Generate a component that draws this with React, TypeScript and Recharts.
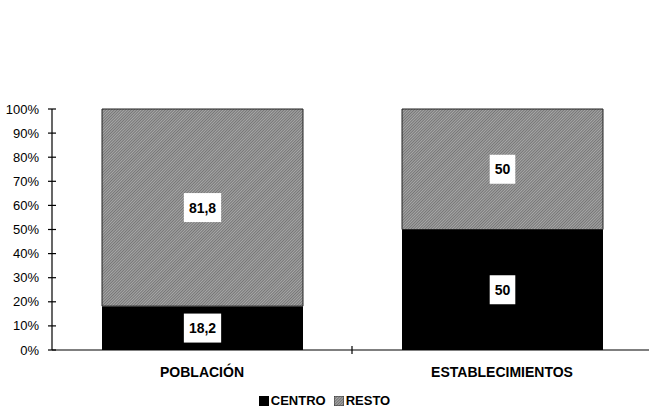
import { Bar, BarChart, XAxis, YAxis, Legend, LabelList } from "recharts"

// values (percent shares)
const categories = ["POBLACIÓN", "ESTABLECIMIENTOS"]
const centro = [18.2, 50]
const resto = [81.8, 50]
const yTicks = [0, 10, 20, 30, 40, 50, 60, 70, 80, 90, 100]

const data = categories.map((name, i) => ({ name, centro: centro[i], resto: resto[i] }))

const FONT = "'Liberation Sans', Arial, Helvetica, sans-serif"

const YTick = (props: any) => {
  const { x, y, payload } = props
  return (
    <g>
      <line x1={x - 4} x2={x + 4} y1={y} y2={y} stroke="#000" strokeWidth={1.2} />
      <text x={x - 13} y={y + 4.5} textAnchor="end" fontSize={13} fontFamily={FONT} fill="#000">
        {`${payload.value}%`}
      </text>
    </g>
  )
}

const XTick = (props: any) => {
  const { x, y, payload, index } = props
  const half = payload.offset ?? 150
  return (
    <g>
      {index > 0 && <line x1={x - half} x2={x - half} y1={y - 4} y2={y + 4} stroke="#000" strokeWidth={1.2} />}
      <text x={x} y={y + 27} textAnchor="middle" fontSize={14} fontWeight="bold" fontFamily={FONT} fill="#000">
        {payload.value}
      </text>
    </g>
  )
}

const BoxLabel = (props: any) => {
  const { x, y, width, height, value } = props
  const txt = String(value).replace(".", ",")
  const tw = txt.split("").reduce((s, c) => s + (c === "," ? 3.9 : 7.8), 0)
  const bw = tw + 10
  const bh = 29
  const cx = x + width / 2
  const cy = y + height / 2
  return (
    <g>
      <rect x={cx - bw / 2} y={cy - bh / 2} width={bw} height={bh} fill="#fff" />
      <text x={cx} y={cy + 5} textAnchor="middle" fontSize={14} fontWeight="bold" fontFamily={FONT} fill="#000">
        {txt}
      </text>
    </g>
  )
}

const LegendContent = () => (
  <div style={{ display: "flex", justifyContent: "center", fontFamily: FONT, fontSize: 13, fontWeight: "bold", lineHeight: "14px" }}>
    <span style={{ display: "inline-flex", alignItems: "center", marginRight: 8 }}>
      <svg width={10} height={10} style={{ marginRight: 2 }}>
        <rect width={10} height={10} fill="#000" />
      </svg>
      CENTRO
    </span>
    <span style={{ display: "inline-flex", alignItems: "center" }}>
      <svg width={10} height={10} style={{ marginRight: 2 }}>
        <rect width={10} height={10} fill="url(#hatchL)" stroke="#333" strokeWidth={1} />
        <defs>
          <pattern id="hatchL" width="2" height="2" patternUnits="userSpaceOnUse" patternTransform="rotate(45)">
            <rect width="2" height="2" fill="#a8a8a8" />
            <line x1="0" y1="0" x2="0" y2="2" stroke="#4a4a4a" strokeWidth="1.1" />
          </pattern>
        </defs>
      </svg>
      RESTO
    </span>
  </div>
)

export default function App() {
  return (
    <div style={{ position: "fixed", left: 0, top: 0, width: 649, height: 410, overflow: "hidden", background: "#fff" }}>
      <BarChart width={660} height={410} data={data} margin={{ top: 109, right: 8, bottom: 30, left: 0 }} barSize={201}>
        <defs>
          <pattern id="hatch" width="2" height="2" patternUnits="userSpaceOnUse" patternTransform="rotate(45)">
            <rect width="2" height="2" fill="#a8a8a8" />
            <line x1="0" y1="0" x2="0" y2="2" stroke="#4a4a4a" strokeWidth="1.1" />
          </pattern>
        </defs>
        <XAxis
          dataKey="name"
          height={30}
          axisLine={{ stroke: "#000", strokeWidth: 1.2 }}
          tickLine={false}
          tickSize={0}
          tickMargin={0}
          tick={<XTick />}
          interval={0}
        />
        <YAxis
          width={52}
          domain={[0, 100]}
          ticks={yTicks}
          axisLine={{ stroke: "#000", strokeWidth: 1.2 }}
          tickLine={false}
          tickSize={0}
          tickMargin={0}
          tick={<YTick />}
          interval={0}
        />
        <Legend
          layout="horizontal"
          verticalAlign="middle"
          align="center"
          wrapperStyle={{ top: 394, left: 0, width: 649 }}
          content={<LegendContent />}
        />
        <Bar dataKey="centro" name="CENTRO" stackId="a" fill="#000" isAnimationActive={false}>
          <LabelList dataKey="centro" content={<BoxLabel />} />
        </Bar>
        <Bar dataKey="resto" name="RESTO" stackId="a" fill="url(#hatch)" stroke="#222" strokeWidth={1} isAnimationActive={false}>
          <LabelList dataKey="resto" content={<BoxLabel />} />
        </Bar>
      </BarChart>
    </div>
  )
}
